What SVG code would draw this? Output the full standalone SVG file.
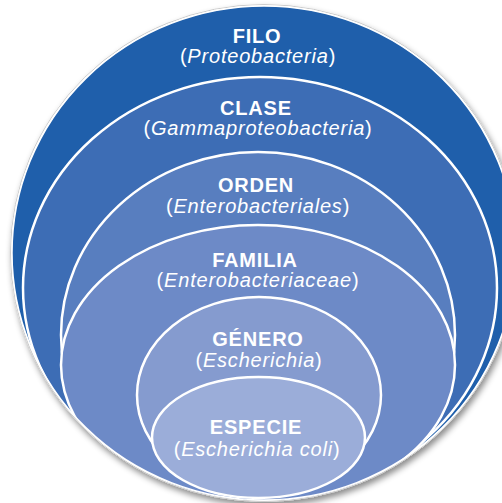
<svg xmlns="http://www.w3.org/2000/svg" width="502" height="503" viewBox="0 0 502 503">
<style>
.lvl{stroke:#ffffff;stroke-width:2.5}
.t{font-family:"Liberation Sans",Arial,sans-serif;fill:#ffffff;text-anchor:middle}
.b{font-weight:bold;font-size:20px;letter-spacing:0.8px}
.n{font-size:20px;letter-spacing:0.8px}
.i{font-style:italic}
</style>
<defs>
<clipPath id="outerClip"><ellipse cx="264" cy="253" rx="252" ry="247"/></clipPath>
<filter id="sh" x="-10%" y="-10%" width="120%" height="120%">
<feDropShadow dx="2" dy="4" stdDeviation="3" flood-color="#000" flood-opacity="0.45"/>
</filter>
</defs>
<rect width="502" height="503" fill="#ffffff"/>
<g id="filo">
<ellipse cx="264" cy="253" rx="253.5" ry="248.5" fill="#ffffff" stroke="#cccccc" stroke-width="1" filter="url(#sh)"/>
<ellipse cx="264" cy="253" rx="252" ry="247" fill="#1f5fab"/>
<text class="t b" x="257" y="43">FILO</text>
<text class="t n" x="258" y="63">(<tspan class="i">Proteobacteria</tspan>)</text>
</g>
<g clip-path="url(#outerClip)">
<g id="clase">
<ellipse class="lvl" cx="260" cy="288" rx="237" ry="211" fill="#3d6db5"/>
<text class="t b" x="256" y="115">CLASE</text>
<text class="t n" x="258" y="135">(<tspan class="i">Gammaproteobacteria</tspan>)</text>
</g>
<g id="orden">
<ellipse class="lvl" cx="258" cy="335" rx="197" ry="183" fill="#587ebf"/>
<text class="t b" x="256" y="192">ORDEN</text>
<text class="t n" x="258" y="213">(<tspan class="i">Enterobacteriales</tspan>)</text>
</g>
<g id="familia">
<ellipse class="lvl" cx="258" cy="365" rx="197" ry="140" fill="#6d8ac7"/>
<text class="t b" x="255" y="267">FAMILIA</text>
<text class="t n" x="258" y="287">(<tspan class="i">Enterobacteriaceae</tspan>)</text>
</g>
<g id="genero">
<ellipse class="lvl" cx="259" cy="395" rx="122" ry="98" fill="#859bcf"/>
<text class="t b" x="258" y="346">GÉNERO</text>
<text class="t n" x="259" y="367">(<tspan class="i">Escherichia</tspan>)</text>
</g>
<g id="especie">
<ellipse class="lvl" cx="258.5" cy="437.5" rx="106.5" ry="60.5" fill="#9badd9"/>
<text class="t b" x="256" y="434">ESPECIE</text>
<text class="t n" x="257" y="456">(<tspan class="i">Escherichia coli</tspan>)</text>
</g>
</g>
<ellipse cx="264" cy="253" rx="252" ry="247" fill="none" stroke="#ffffff" stroke-width="1.5"/>
</svg>
